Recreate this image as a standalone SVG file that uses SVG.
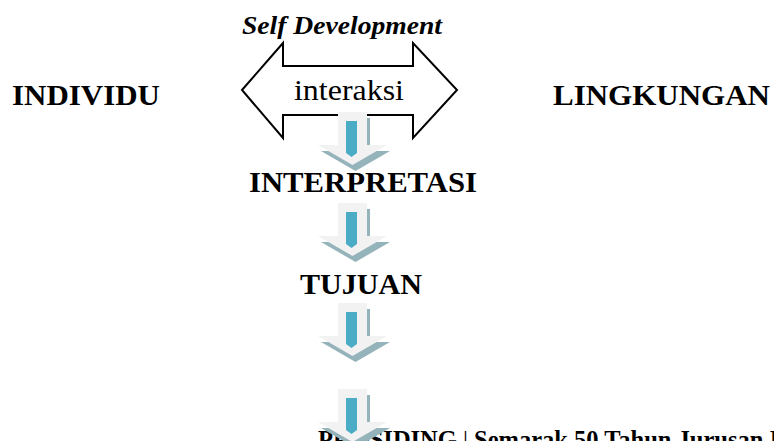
<svg xmlns="http://www.w3.org/2000/svg" xmlns:xlink="http://www.w3.org/1999/xlink" width="774" height="441" viewBox="0 0 774 441">
<style>
.t{font-family:"Liberation Serif","Times New Roman",serif;fill:#000}
.b{font-weight:bold;font-size:30px}
</style>
<defs>
<g id="darrow">
<polygon points="3,6 32,6 32,39 52,39 17.5,59 -17,39 3,39" fill="#94b3ba"/>
<polygon points="0,0 29,0 29,33 49,33 14.5,53 -20,33 0,33" fill="#f2f2f2"/>
<path d="M8,9 H19 V41 L13.5,45 L8,41 Z" fill="#4bacc6"/>
</g>
</defs>
<rect width="774" height="441" fill="#fff"/>
<g id="interaksi">
<polygon points="242,90 283,43 283,66 413,66 413,43 457,90 413,138 413,115 283,115 283,138" fill="#fff" stroke="#000" stroke-width="2"/>
</g>
<g id="connectors">
<use xlink:href="#darrow" x="338" y="112"/>
<use xlink:href="#darrow" x="338" y="203"/>
<use xlink:href="#darrow" x="338" y="303"/>
</g>
<g id="interaksi-label">
<text class="t" x="349" y="100" font-size="30" text-anchor="middle" textLength="110" lengthAdjust="spacingAndGlyphs">interaksi</text>
</g>
<g id="self-development">
<text class="t" x="242" y="34" font-size="26" font-weight="bold" font-style="italic" textLength="200" lengthAdjust="spacingAndGlyphs">Self Development</text>
</g>
<g id="individu">
<text class="t b" x="12" y="105" textLength="148" lengthAdjust="spacingAndGlyphs">INDIVIDU</text>
</g>
<g id="lingkungan">
<text class="t b" x="553" y="105" textLength="217" lengthAdjust="spacingAndGlyphs">LINGKUNGAN</text>
</g>
<g id="interpretasi">
<text class="t b" x="249" y="192" textLength="228" lengthAdjust="spacingAndGlyphs">INTERPRETASI</text>
</g>
<g id="tujuan">
<text class="t b" x="300" y="294" textLength="122" lengthAdjust="spacingAndGlyphs">TUJUAN</text>
</g>
<g id="footer">
<text class="t" x="318" y="448" font-size="24.5" font-weight="bold">PROSIDING <tspan font-weight="normal">|</tspan> Semarak 50 Tahun Jurusan I</text>
<use xlink:href="#darrow" x="338" y="389"/>
</g>
</svg>
